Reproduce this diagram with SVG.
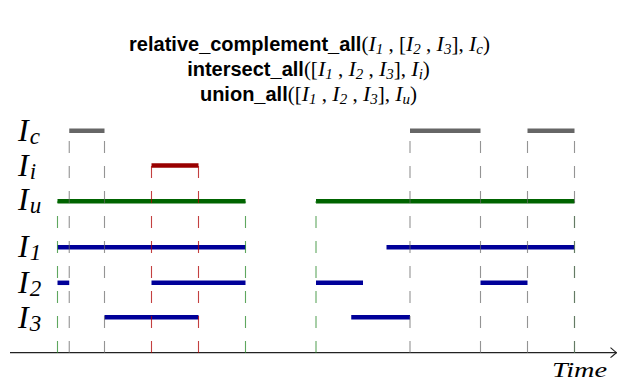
<svg xmlns="http://www.w3.org/2000/svg" width="617" height="383" viewBox="0 0 617 383">
<defs>
<style>
.sf{font-family:"Liberation Sans","DejaVu Sans",sans-serif;font-weight:bold;font-size:20px;fill:#000}
.rm{font-family:"Liberation Serif",serif;font-size:21px;fill:#000}
.mi{font-family:"Liberation Serif",serif;font-style:italic;font-size:22px;fill:#000}
.sb{font-family:"Liberation Serif",serif;font-style:italic;font-size:15px;fill:#000}
.lb{font-family:"Liberation Serif",serif;font-style:italic;font-size:32px;fill:#000}
.ls{font-family:"Liberation Serif",serif;font-style:italic;font-size:23px;fill:#000}
.tm{font-family:"Liberation Serif",serif;font-style:italic;font-size:22px;fill:#000}
.bar{stroke-width:4.5;stroke-linecap:butt;fill:none}
.gray{stroke:#666666}
.red{stroke:#990000}
.green{stroke:#006400}
.blue{stroke:#000099}
.dg{stroke:#666666;stroke-opacity:0.7;stroke-width:1.1;stroke-dasharray:12 13;fill:none}
.dr{stroke:#b00000;stroke-opacity:0.75;stroke-width:1.1;stroke-dasharray:12 13;fill:none}
.dgr{stroke:#2a8a2a;stroke-opacity:0.75;stroke-width:1.1;stroke-dasharray:12 13;fill:none}
</style>
<marker id="arr" viewBox="-8 -6 10 12" refX="0" refY="0" markerWidth="10" markerHeight="12" markerUnits="userSpaceOnUse" orient="auto">
<path d="M-6,-5 Q-1.5,-1 0,0 Q-1.5,1 -6,5" fill="none" stroke="#222" stroke-width="1.1"/>
</marker>
</defs>
<rect width="617" height="383" fill="#fff"/>

<g id="title">
<text x="309.5" y="51" text-anchor="middle"><tspan class="sf">relative_complement_all</tspan><tspan class="rm">(</tspan><tspan class="mi">I</tspan><tspan class="sb" dy="2.5">1</tspan><tspan class="rm" dy="-2.5"> , [</tspan><tspan class="mi">I</tspan><tspan class="sb" dy="2.5">2</tspan><tspan class="rm" dy="-2.5"> , </tspan><tspan class="mi">I</tspan><tspan class="sb" dy="2.5">3</tspan><tspan class="rm" dy="-2.5">], </tspan><tspan class="mi">I</tspan><tspan class="sb" dy="2.5">c</tspan><tspan class="rm" dy="-2.5">)</tspan></text>
<text x="308.5" y="76" text-anchor="middle"><tspan class="sf">intersect_all</tspan><tspan class="rm">([</tspan><tspan class="mi">I</tspan><tspan class="sb" dy="2.5">1</tspan><tspan class="rm" dy="-2.5"> , </tspan><tspan class="mi">I</tspan><tspan class="sb" dy="2.5">2</tspan><tspan class="rm" dy="-2.5"> , </tspan><tspan class="mi">I</tspan><tspan class="sb" dy="2.5">3</tspan><tspan class="rm" dy="-2.5">], </tspan><tspan class="mi">I</tspan><tspan class="sb" dy="2.5">i</tspan><tspan class="rm" dy="-2.5">)</tspan></text>
<text x="308.5" y="101" text-anchor="middle"><tspan class="sf">union_all</tspan><tspan class="rm">([</tspan><tspan class="mi">I</tspan><tspan class="sb" dy="2.5">1</tspan><tspan class="rm" dy="-2.5"> , </tspan><tspan class="mi">I</tspan><tspan class="sb" dy="2.5">2</tspan><tspan class="rm" dy="-2.5"> , </tspan><tspan class="mi">I</tspan><tspan class="sb" dy="2.5">3</tspan><tspan class="rm" dy="-2.5">], </tspan><tspan class="mi">I</tspan><tspan class="sb" dy="2.5">u</tspan><tspan class="rm" dy="-2.5">)</tspan></text>
</g>

<g id="labels">
<text x="18" y="141"><tspan class="lb">I</tspan><tspan class="ls" dx="1" dy="3">c</tspan></text>
<text x="18" y="176"><tspan class="lb">I</tspan><tspan class="ls" dx="1" dy="3">i</tspan></text>
<text x="18" y="210"><tspan class="lb">I</tspan><tspan class="ls" dx="1" dy="3">u</tspan></text>
<text x="18" y="257"><tspan class="lb">I</tspan><tspan class="ls" dx="1" dy="3">1</tspan></text>
<text x="18" y="293"><tspan class="lb">I</tspan><tspan class="ls" dx="1" dy="3">2</tspan></text>
<text x="18" y="328"><tspan class="lb">I</tspan><tspan class="ls" dx="1" dy="3">3</tspan></text>
</g>

<g id="axis">
<line x1="10" y1="352.7" x2="616.5" y2="352.7" stroke="#222" stroke-width="1.2" marker-end="url(#arr)"/>
<text x="552" y="377" class="tm" textLength="55" lengthAdjust="spacingAndGlyphs">Time</text>
</g>

<g id="Ic">
<line class="bar gray" x1="69.25" y1="130.8" x2="104.5" y2="130.8"/>
<line class="bar gray" x1="410" y1="130.8" x2="480.5" y2="130.8"/>
<line class="bar gray" x1="527.5" y1="130.8" x2="574.5" y2="130.8"/>
</g>
<g id="Ii">
<line class="bar red" x1="151.5" y1="165.5" x2="198.5" y2="165.5"/>
</g>
<g id="Iu">
<line class="bar green" x1="57.5" y1="201.2" x2="245.5" y2="201.2"/>
<line class="bar green" x1="316" y1="201.2" x2="574.5" y2="201.2"/>
</g>
<g id="I1">
<line class="bar blue" x1="57.5" y1="247.2" x2="245.5" y2="247.2"/>
<line class="bar blue" x1="386.5" y1="247.2" x2="574.5" y2="247.2"/>
</g>
<g id="I2">
<line class="bar blue" x1="57.5" y1="282.8" x2="69.25" y2="282.8"/>
<line class="bar blue" x1="151.5" y1="282.8" x2="245.5" y2="282.8"/>
<line class="bar blue" x1="316" y1="282.8" x2="363" y2="282.8"/>
<line class="bar blue" x1="480.5" y1="282.8" x2="527.5" y2="282.8"/>
</g>
<g id="I3">
<line class="bar blue" x1="104.5" y1="317.2" x2="198.5" y2="317.2"/>
<line class="bar blue" x1="351.25" y1="317.2" x2="410" y2="317.2"/>
</g>

<g id="connectors">
<line class="dgr" x1="57.5" y1="353" x2="57.5" y2="201.2"/>
<line class="dgr" x1="245.5" y1="353" x2="245.5" y2="201.2"/>
<line class="dgr" x1="316" y1="353" x2="316" y2="201.2"/>
<line class="dgr" x1="574.5" y1="353" x2="574.5" y2="201.2"/>
<line class="dr" x1="151.5" y1="353" x2="151.5" y2="165.5"/>
<line class="dr" x1="198.5" y1="353" x2="198.5" y2="165.5"/>
<line class="dg" x1="69.25" y1="353" x2="69.25" y2="130.8"/>
<line class="dg" x1="104.5" y1="353" x2="104.5" y2="130.8"/>
<line class="dg" x1="410" y1="353" x2="410" y2="130.8"/>
<line class="dg" x1="480.5" y1="353" x2="480.5" y2="130.8"/>
<line class="dg" x1="527.5" y1="353" x2="527.5" y2="130.8"/>
<line class="dg" x1="574.5" y1="353" x2="574.5" y2="130.8"/>
</g>
</svg>
